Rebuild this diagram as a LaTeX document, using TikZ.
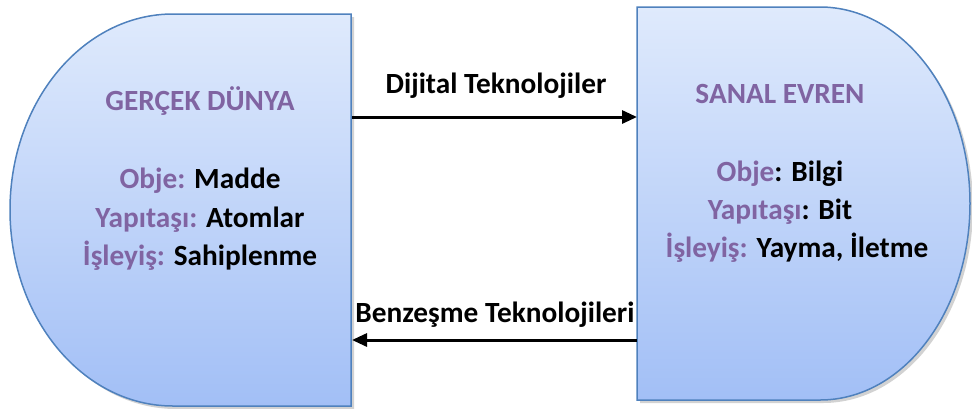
\documentclass[tikz,border=0pt]{standalone}
\usepackage{fontspec}
\setmainfont{Carlito}
\usetikzlibrary{arrows.meta,shadows}
\definecolor{mor}{RGB}{128,100,162}
\definecolor{kenar}{RGB}{79,129,189}
\definecolor{acik}{RGB}{223,234,252}
\definecolor{koyu}{RGB}{162,191,246}
\newcommand{\morcu}[1]{\textcolor{mor}{#1}}
\tikzset{
  kutu/.style={draw=kenar, line width=1.5pt, top color=acik, bottom color=koyu,
    drop shadow={shadow xshift=3pt, shadow yshift=-3pt, opacity=0.25, fill=black!70}},
  yazi/.style={anchor=base, inner sep=0pt, font=\fontsize{29.3}{35}\selectfont\bfseries},
  ok/.style={line width=3pt, -{Triangle[length=15pt,width=13pt]}}
}
\begin{document}
\begin{tikzpicture}[x=1pt, y=-1pt]
\useasboundingbox (0,0) rectangle (972,408);

\path[kutu] (351,14) -- (173,14) arc[start angle=270, end angle=90, x radius=163, y radius=196] -- (351,406) -- cycle;
\path[kutu] (637,7) -- (820,7) arc[start angle=270, end angle=450, x radius=150, y radius=196.5] -- (637,400) -- cycle;

\node[yazi, text=mor] (gercek) at (200,110) {GERÇEK DÜNYA};
\node[yazi] (gobje) at (200,188) {\morcu{Obje:} Madde};
\node[yazi] (gyapi) at (200,227) {\morcu{Yapıtaşı:} Atomlar};
\node[yazi] (gisle) at (200,265) {\morcu{İşleyiş:} Sahiplenme};

\node[yazi, text=mor] (sanal) at (780,103) {SANAL EVREN};
\node[yazi] (sobje) at (780,181) {\morcu{Obje}: Bilgi};
\node[yazi] (syapi) at (780,219) {\morcu{Yapıtaşı}: Bit};
\node[yazi] (sisle) at (797,257) {\morcu{İşleyiş:} Yayma, İletme};

\coordinate (solUst) at (352,117);
\coordinate (sagUst) at (637,117);
\coordinate (solAlt) at (352,340);
\coordinate (sagAlt) at (637,340);

\draw[ok] (solUst) -- (sagUst);
\draw[ok] (sagAlt) -- (solAlt);
\node[yazi] (dijital) at (496,93) {Dijital Teknolojiler};
\node[yazi] (benzesme) at (495,322) {Benzeşme Teknolojileri};
\end{tikzpicture}
\end{document}
